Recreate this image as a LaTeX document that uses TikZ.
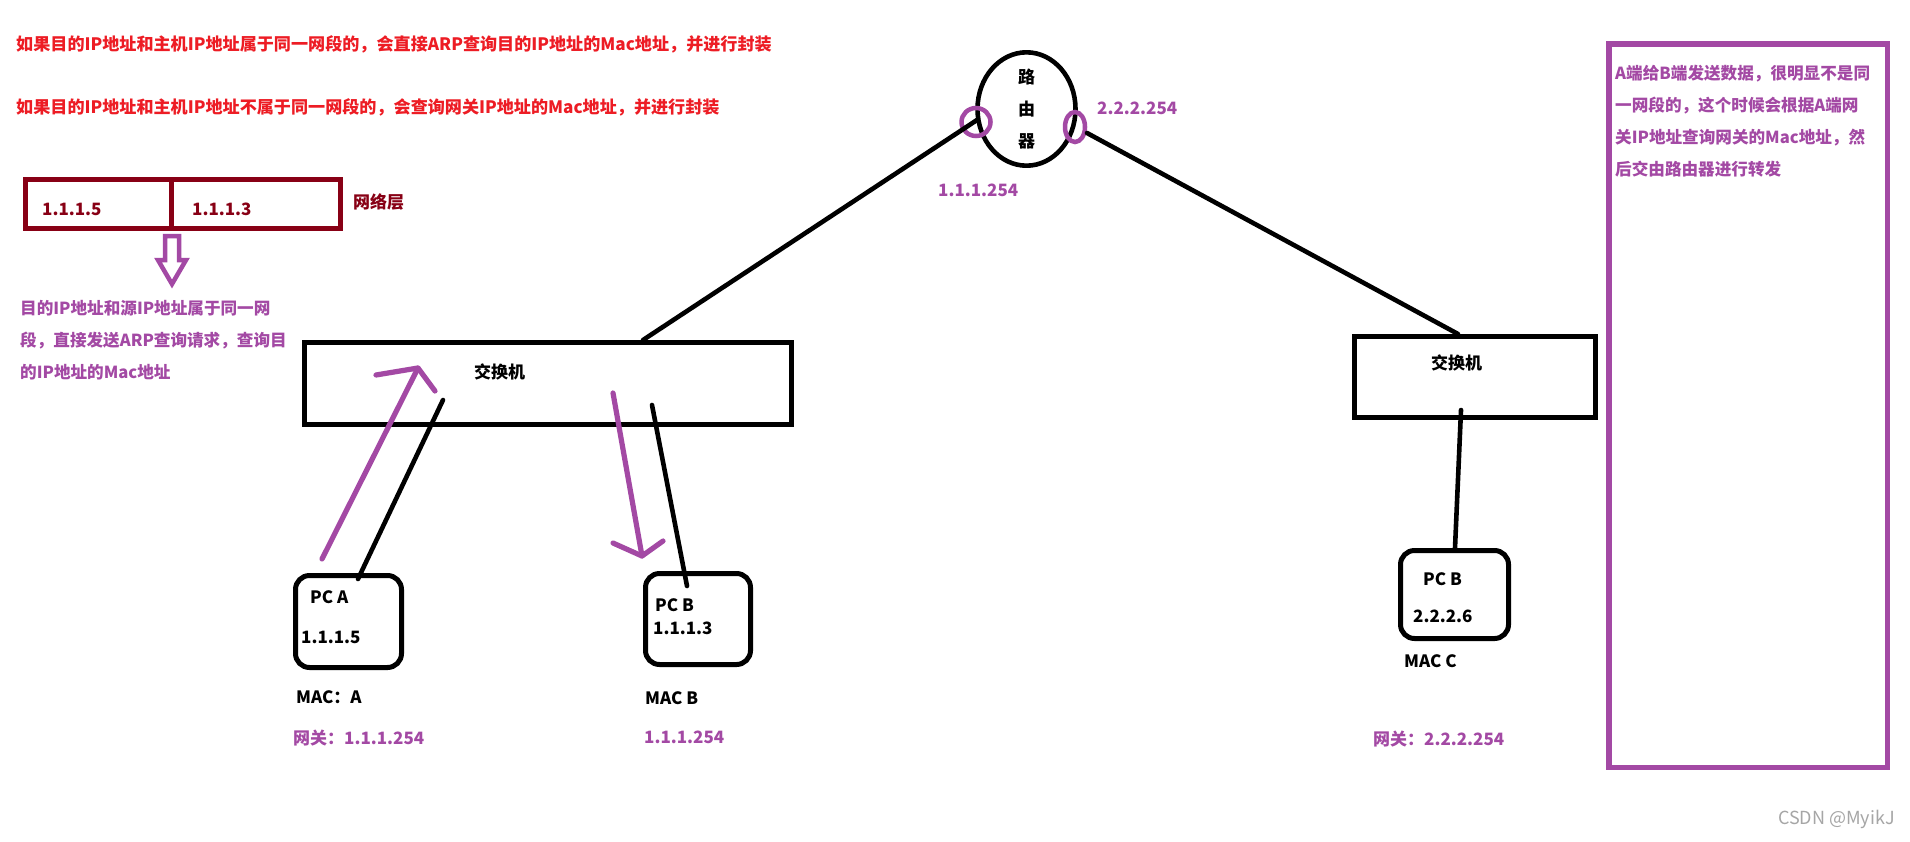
\documentclass[tikz,border=0pt]{standalone}
\usepackage{fontspec}
\setmainfont{Noto Sans CJK SC}
\usetikzlibrary{shapes.geometric}
\definecolor{pred}{HTML}{ED1C24}
\definecolor{dred}{HTML}{880015}
\definecolor{ppl}{HTML}{A349A4}
\definecolor{wmgray}{HTML}{A6A6A6}
\begin{document}
\begin{tikzpicture}[x=1pt,y=-1pt,
  lbl/.style={inner sep=0pt, anchor=west, font=\fontsize{17}{17}\selectfont\bfseries},
  redtxt/.style={lbl, text=pred, font=\fontsize{17.1}{17.1}\selectfont\bfseries},
  ppltxt/.style={lbl, text=ppl},
  drtxt/.style={lbl, text=dred},
  para/.style={inner sep=0pt, anchor=north west, align=left, text=ppl, font=\fontsize{16.6}{32.2}\selectfont\bfseries},
  switchbox/.style={draw=black, line width=5pt, rectangle, inner sep=0pt},
  pcbox/.style={draw=black, line width=5pt, rectangle, rounded corners=14pt, inner sep=0pt},
  wire/.style={draw=black, line width=4.6pt, line cap=round},
  parrow/.style={draw=ppl, line width=5.2pt, line cap=round, line join=round},
  port/.style={draw=ppl, line width=4.5pt, ellipse, inner sep=0pt}
]
\useasboundingbox (0,0) rectangle (1910,841);
\fill[white] (0,0) rectangle (1910,841);

% red explanatory text
\node[redtxt] (r1) at (16,44) {如果目的IP地址和主机IP地址属于同一网段的，会直接ARP查询目的IP地址的Mac地址，并进行封装};
\node[redtxt] (r2) at (16,107) {如果目的IP地址和主机IP地址不属于同一网段的，会查询网关IP地址的Mac地址，并进行封装};

% network layer box
\node[draw=dred, line width=5pt, rectangle, inner sep=0pt, minimum width=315pt, minimum height=49pt] (nl) at (183,204) {};
\draw[dred, line width=5pt] (nl.north -| 171,0) -- (nl.south -| 171,0);
\node[drtxt] (ip1) at (42,209) {1.1.1.5};
\node[drtxt] (ip2) at (192,209) {1.1.1.3};
\node[drtxt] (nllbl) at (353,202) {网络层};

% hollow down arrow
\draw[ppl, line width=4.5pt, line join=miter] (165,236) -- (179,236) -- (179,260) -- (186,260) -- (172,284) -- (158,260) -- (165,260) -- cycle;

% purple note left
\node[para] (note1) at (20,300) {目的IP地址和源IP地址属于同一网\\段，直接发送ARP查询请求，查询目\\的IP地址的Mac地址};

% router
\node[draw=black, line width=4.6pt, ellipse, inner sep=0pt, minimum width=98pt, minimum height=113pt, align=center, font=\fontsize{17}{32}\selectfont\bfseries] (router) at (1026.5,109) {路\\由\\器};
\node[port, minimum width=29pt, minimum height=28pt] (portL) at (976,122) {};
\node[port, minimum width=20pt, minimum height=30pt] (portR) at (1075,127) {};
\node[ppltxt] (gw1) at (938,190) {1.1.1.254};
\node[ppltxt] (gw2) at (1097,108) {2.2.2.254};

% switches
\node[switchbox, minimum width=487pt, minimum height=82pt] (sw1) at (548,383.5) {};
\node[lbl] (sw1t) at (474,372) {交换机};
\node[switchbox, minimum width=241pt, minimum height=81pt] (sw2) at (1475,377) {};
\node[lbl] (sw2t) at (1431,363) {交换机};

% PCs
\node[pcbox, minimum width=106pt, minimum height=92pt] (pcA) at (348.5,621.5) {};
\node[lbl] (pcAn) at (310,597) {PC A};
\node[lbl] (pcAip) at (301,637) {1.1.1.5};
\node[lbl] (pcAmac) at (296,697) {MAC：A};
\node[ppltxt] (pcAgw) at (293,738) {网关：1.1.1.254};

\node[pcbox, minimum width=105pt, minimum height=91pt] (pcB) at (698,619) {};
\node[lbl] (pcBn) at (655,605) {PC B};
\node[lbl] (pcBip) at (653,628) {1.1.1.3};
\node[lbl] (pcBmac) at (645,698) {MAC B};
\node[ppltxt] (pcBgw) at (644,737) {1.1.1.254};

\node[pcbox, minimum width=108pt, minimum height=88pt] (pcC) at (1454.5,594.5) {};
\node[lbl] (pcCn) at (1423,579) {PC B};
\node[lbl] (pcCip) at (1413,616) {2.2.2.6};
\node[lbl] (pcCmac) at (1404,661) {MAC C};
\node[ppltxt] (pcCgw) at (1373,739) {网关：2.2.2.254};

% connector end points
\coordinate (rL) at (977,120);
\coordinate (s1T) at (643,340);
\coordinate (rR) at (1087,133);
\coordinate (s2T) at (1458,334);
\coordinate (s1a) at (443,400);
\coordinate (pcAt) at (358,579);
\coordinate (s1b) at (652,405);
\coordinate (pcBt) at (687,586);
\coordinate (s2b) at (1461,410);
\coordinate (pcCt) at (1455,548);

\draw[wire] (rL) -- (s1T);
\draw[wire] (rR) -- (s2T);
\draw[wire] (pcAt) -- (s1a);
\draw[wire] (s1b) -- (pcBt);
\draw[wire] (s2b) -- (pcCt);

% purple hand-drawn arrows
\coordinate (aTail) at (322,559);
\coordinate (aTip) at (418,368);
\coordinate (aH1) at (376,375);
\coordinate (aH2) at (435,391);
\draw[parrow] (aTail) -- (aTip);
\draw[parrow] (aH1) -- (aTip) -- (aH2);
\coordinate (bTail) at (613,393);
\coordinate (bTip) at (642,556);
\coordinate (bH1) at (613,543);
\coordinate (bH2) at (663,541);
\draw[parrow] (bTail) -- (bTip);
\draw[parrow] (bH1) -- (bTip) -- (bH2);

% right note box
\node[draw=ppl, line width=5.5pt, rectangle, inner sep=0pt, minimum width=278.5pt, minimum height=723.5pt] (notebox) at (1748,405.5) {};
\node[para] (note2) at (1615,64.5) {A端给B端发送数据，很明显不是同\\一网段的，这个时候会根据A端网\\关IP地址查询网关的Mac地址，然\\后交由路由器进行转发};

% watermark
\node[inner sep=0pt, anchor=east, text=wmgray, font=\fontsize{18}{18}\selectfont] (wm) at (1895,819) {CSDN @MyikJ};
\end{tikzpicture}
\end{document}
